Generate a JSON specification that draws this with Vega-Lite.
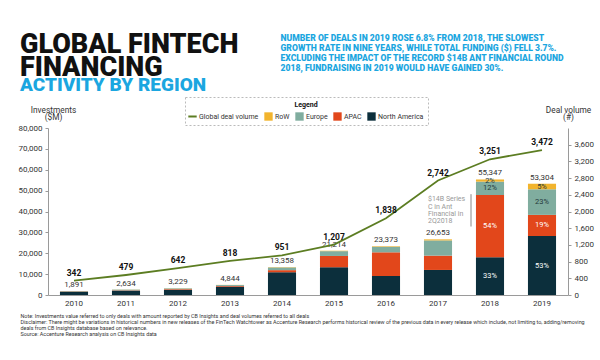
{
  "$schema": "https://vega.github.io/schema/vega-lite/v6.json",
  "width": 520,
  "height": 167,
  "autosize": {"type": "none"},
  "padding": {"left": 48, "top": 128, "right": 32, "bottom": 65},
  "background": "white",
  "title": {
    "text": ["GLOBAL FINTECH", "FINANCING"],
    "subtitle": "ACTIVITY BY REGION",
    "anchor": "start",
    "frame": "group",
    "dx": -28,
    "dy": 67,
    "font": "Roboto",
    "fontSize": 27,
    "fontWeight": 900,
    "color": "#111111",
    "lineHeight": 23,
    "subtitleFont": "Roboto",
    "subtitleFontSize": 19,
    "subtitleFontWeight": 900,
    "subtitleColor": "#1ba6e0",
    "subtitlePadding": -6
  },
  "datasets": {
    "invest": [
      {"year": "2010", "region": "North America", "value": 1600, "pct": null},
      {"year": "2010", "region": "APAC", "value": 100, "pct": null},
      {"year": "2010", "region": "Europe", "value": 150, "pct": null},
      {"year": "2010", "region": "RoW", "value": 41, "pct": null},
      {"year": "2011", "region": "North America", "value": 2100, "pct": null},
      {"year": "2011", "region": "APAC", "value": 150, "pct": null},
      {"year": "2011", "region": "Europe", "value": 330, "pct": null},
      {"year": "2011", "region": "RoW", "value": 54, "pct": null},
      {"year": "2012", "region": "North America", "value": 2500, "pct": null},
      {"year": "2012", "region": "APAC", "value": 310, "pct": null},
      {"year": "2012", "region": "Europe", "value": 360, "pct": null},
      {"year": "2012", "region": "RoW", "value": 59, "pct": null},
      {"year": "2013", "region": "North America", "value": 4000, "pct": null},
      {"year": "2013", "region": "APAC", "value": 330, "pct": null},
      {"year": "2013", "region": "Europe", "value": 450, "pct": null},
      {"year": "2013", "region": "RoW", "value": 64, "pct": null},
      {"year": "2014", "region": "North America", "value": 10900, "pct": null},
      {"year": "2014", "region": "APAC", "value": 1000, "pct": null},
      {"year": "2014", "region": "Europe", "value": 1300, "pct": null},
      {"year": "2014", "region": "RoW", "value": 158, "pct": null},
      {"year": "2015", "region": "North America", "value": 13300, "pct": null},
      {"year": "2015", "region": "APAC", "value": 5400, "pct": null},
      {"year": "2015", "region": "Europe", "value": 2300, "pct": null},
      {"year": "2015", "region": "RoW", "value": 214, "pct": null},
      {"year": "2016", "region": "North America", "value": 9100, "pct": null},
      {"year": "2016", "region": "APAC", "value": 11350, "pct": null},
      {"year": "2016", "region": "Europe", "value": 2650, "pct": null},
      {"year": "2016", "region": "RoW", "value": 273, "pct": null},
      {"year": "2017", "region": "North America", "value": 12000, "pct": null},
      {"year": "2017", "region": "APAC", "value": 6850, "pct": null},
      {"year": "2017", "region": "Europe", "value": 7300, "pct": null},
      {"year": "2017", "region": "RoW", "value": 503, "pct": null},
      {"year": "2018", "region": "North America", "value": 18100, "pct": "33%"},
      {"year": "2018", "region": "APAC", "value": 29800, "pct": "54%"},
      {"year": "2018", "region": "Europe", "value": 6400, "pct": "12%"},
      {"year": "2018", "region": "RoW", "value": 1047, "pct": "2%"},
      {"year": "2019", "region": "North America", "value": 28250, "pct": "53%"},
      {"year": "2019", "region": "APAC", "value": 10130, "pct": "19%"},
      {"year": "2019", "region": "Europe", "value": 12260, "pct": "23%"},
      {"year": "2019", "region": "RoW", "value": 2664, "pct": "5%"}
    ],
    "deals": [
      {"year": "2010", "deals": 342},
      {"year": "2011", "deals": 479},
      {"year": "2012", "deals": 642},
      {"year": "2013", "deals": 818},
      {"year": "2014", "deals": 951},
      {"year": "2015", "deals": 1207},
      {"year": "2016", "deals": 1838},
      {"year": "2017", "deals": 2742},
      {"year": "2018", "deals": 3251},
      {"year": "2019", "deals": 3472}
    ]
  },
  "layer": [
    {
      "data": {"name": "invest"},
      "transform": [
        {"calculate": "indexof(['North America','APAC','Europe','RoW'], datum.region)", "as": "ord"}
      ],
      "layer": [
        {
          "mark": {"type": "bar"},
          "encoding": {
            "x": {
              "field": "year",
              "type": "nominal",
              "scale": {"paddingInner": 0.46, "paddingOuter": 0.23},
              "axis": {
                "orient": "bottom",
                "labelAngle": 0,
                "ticks": false,
                "labelPadding": 4,
                "labelFontSize": 8,
                "title": [
                  "Note: Investments value referred to only deals with amount reported by CB Insights and deal volumes referred to all deals",
                  "Disclaimer: There might be variations in historical numbers in new releases of the FinTech Watchtower as Accenture Research performs historical review of the previous data in every release which include, not limiting to, adding/removing",
                  "deals from CB Insights database based on relevance.",
                  "Source: Accenture Research analysis on CB Insights data"
                ],
                "titleX": -28,
                "titleY": 18,
                "titleAlign": "left",
                "titleBaseline": "top",
                "titleFontSize": 5.4,
                "titleFontWeight": "normal",
                "titleColor": "#333333",
                "titleLineHeight": 6.3
              }
            },
            "y": {
              "field": "value",
              "type": "quantitative",
              "stack": "zero",
              "scale": {"domain": [0, 80000]},
              "axis": {
                "orient": "left",
                "values": [0, 10000, 20000, 30000, 40000, 50000, 60000, 70000, 80000],
                "format": ",d",
                "labelOverlap": false,
                "labelFontSize": 8,
                "tickSize": 3,
                "labelPadding": 3,
                "title": ["Investments", "($M)"],
                "titleAngle": 0,
                "titleAlign": "center",
                "titleBaseline": "bottom",
                "titleX": 5,
                "titleY": -14,
                "titleFontSize": 8.3,
                "titleFontWeight": "normal",
                "titleColor": "#333333",
                "titleLineHeight": 7.5
              }
            },
            "color": {
              "field": "region",
              "type": "nominal",
              "scale": {
                "domain": ["Global deal volume", "RoW", "Europe", "APAC", "North America"],
                "range": ["#5c7d22", "#f2b42d", "#80ad9f", "#e2471b", "#0c2f3c"]
              },
              "legend": {
                "title": "Legend",
                "orient": "none",
                "legendX": 137,
                "legendY": -31,
                "direction": "horizontal",
                "columns": 5,
                "gridAlign": "none",
                "titleAnchor": "middle",
                "titleFontSize": 7,
                "titleFontWeight": "bold",
                "titleColor": "#111111",
                "labelFontSize": 7,
                "labelColor": "#333333",
                "labelOffset": 3,
                "symbolSize": 70,
                "columnPadding": 5,
                "padding": 4,
                "strokeColor": "#bbbbbb",
                "encode": {
                  "legend": {"update": {"strokeDash": {"value": [2, 2]}}},
                  "symbols": {
                    "update": {
                      "shape": {"signal": "datum.value === 'Global deal volume' ? 'stroke' : 'square'"},
                      "fill": {"signal": "datum.value === 'Global deal volume' ? 'transparent' : scale('color', datum.value)"},
                      "stroke": {"signal": "scale('color', datum.value)"},
                      "strokeWidth": {"signal": "datum.value === 'Global deal volume' ? 2 : 0"},
                      "opacity": {"value": 1}
                    }
                  }
                }
              }
            },
            "order": {"field": "ord", "type": "quantitative"}
          }
        },
        {
          "transform": [
            {"aggregate": [{"op": "sum", "field": "value", "as": "total"}], "groupby": ["year"]}
          ],
          "mark": {"type": "text", "dy": -2, "fontSize": 8, "color": "#333333", "baseline": "bottom"},
          "encoding": {
            "x": {"field": "year", "type": "nominal"},
            "y": {"field": "total", "type": "quantitative"},
            "text": {"field": "total", "type": "quantitative", "format": ","}
          }
        },
        {
          "transform": [
            {"stack": "value", "groupby": ["year"], "sort": [{"field": "ord", "order": "ascending"}], "as": ["y0", "y1"]},
            {"filter": "datum.pct != null"},
            {"calculate": "(datum.y0 + datum.y1) / 2", "as": "mid"}
          ],
          "mark": {"type": "text", "fontSize": 7.5, "baseline": "middle"},
          "encoding": {
            "x": {"field": "year", "type": "nominal"},
            "y": {"field": "mid", "type": "quantitative"},
            "text": {"field": "pct", "type": "nominal"},
            "fill": {
              "condition": {"test": "datum.region === 'Europe' || datum.region === 'RoW'", "value": "#24393b"},
              "value": "#ffffff"
            }
          }
        },
        {
          "data": {"values": [{"year": "2018", "top": 48300, "bottom": 32800, "note": ["$14B Series", "C in Ant", "Financial in", "2Q2018"]}]},
          "layer": [
            {
              "mark": {"type": "rule", "color": "#888888", "strokeWidth": 1, "xOffset": -19},
              "encoding": {
                "x": {"field": "year", "type": "nominal"},
                "y": {"field": "top", "type": "quantitative"},
                "y2": {"field": "bottom"}
              }
            },
            {
              "mark": {"type": "text", "align": "left", "baseline": "top", "xOffset": -62, "yOffset": 1, "fontSize": 7, "lineHeight": 7.4, "color": "#999999"},
              "encoding": {
                "x": {"field": "year", "type": "nominal"},
                "y": {"field": "top", "type": "quantitative"},
                "text": {"field": "note"}
              }
            }
          ]
        }
      ]
    },
    {
      "data": {"name": "deals"},
      "layer": [
        {
          "mark": {"type": "line", "strokeWidth": 1.8},
          "encoding": {
            "x": {
              "field": "year",
              "type": "nominal",
              "axis": {
                "orient": "top",
                "labels": false,
                "ticks": false,
                "domain": false,
                "title": [
                  "NUMBER OF DEALS IN 2019 ROSE 6.8% FROM 2018, THE SLOWEST",
                  "GROWTH RATE IN NINE YEARS, WHILE TOTAL FUNDING ($) FELL 3.7%.",
                  "EXCLUDING THE IMPACT OF THE RECORD $14B ANT FINANCIAL ROUND",
                  "2018, FUNDRAISING IN 2019 WOULD HAVE GAINED 30%."
                ],
                "titleX": 232,
                "titleY": -95,
                "titleAlign": "left",
                "titleBaseline": "top",
                "titleColor": "#1ba6e0",
                "titleFont": "Roboto",
                "titleFontWeight": 900,
                "titleFontSize": 8.6,
                "titleLineHeight": 10.2
              }
            },
            "y": {
              "field": "deals",
              "type": "quantitative",
              "scale": {"domain": [0, 3600]},
              "axis": {
                "orient": "right",
                "values": [0, 400, 800, 1200, 1600, 2000, 2400, 2800, 3200, 3600],
                "format": ",d",
                "labelOverlap": false,
                "labelFontSize": 8,
                "tickSize": 3,
                "labelPadding": 3,
                "title": ["Deal volume", "(#)"],
                "titleAngle": 0,
                "titleAlign": "center",
                "titleBaseline": "bottom",
                "titleX": 0,
                "titleY": -14,
                "titleFontSize": 8.3,
                "titleFontWeight": "normal",
                "titleColor": "#333333",
                "titleLineHeight": 7.5
              }
            },
            "color": {"datum": "Global deal volume", "type": "nominal"}
          }
        },
        {
          "mark": {"type": "text", "dy": -3, "fontSize": 8.5, "fontWeight": "bold", "color": "#111111", "baseline": "bottom"},
          "encoding": {
            "x": {"field": "year", "type": "nominal"},
            "y": {"field": "deals", "type": "quantitative"},
            "text": {"field": "deals", "type": "quantitative", "format": ","}
          }
        }
      ]
    }
  ],
  "resolve": {
    "scale": {"y": "independent"},
    "axis": {"x": "independent", "y": "independent"}
  },
  "config": {
    "font": "Roboto",
    "view": {"stroke": null},
    "axis": {
      "grid": false,
      "labelOverlap": false,
      "labelFont": "Roboto",
      "titleFont": "Roboto",
      "labelColor": "#333333",
      "domainColor": "#9a9a9a",
      "tickColor": "#9a9a9a"
    },
    "axisQuantitative": {"labelOverlap": false, "tickCount": 10},
    "text": {"font": "Roboto"}
  }
}
